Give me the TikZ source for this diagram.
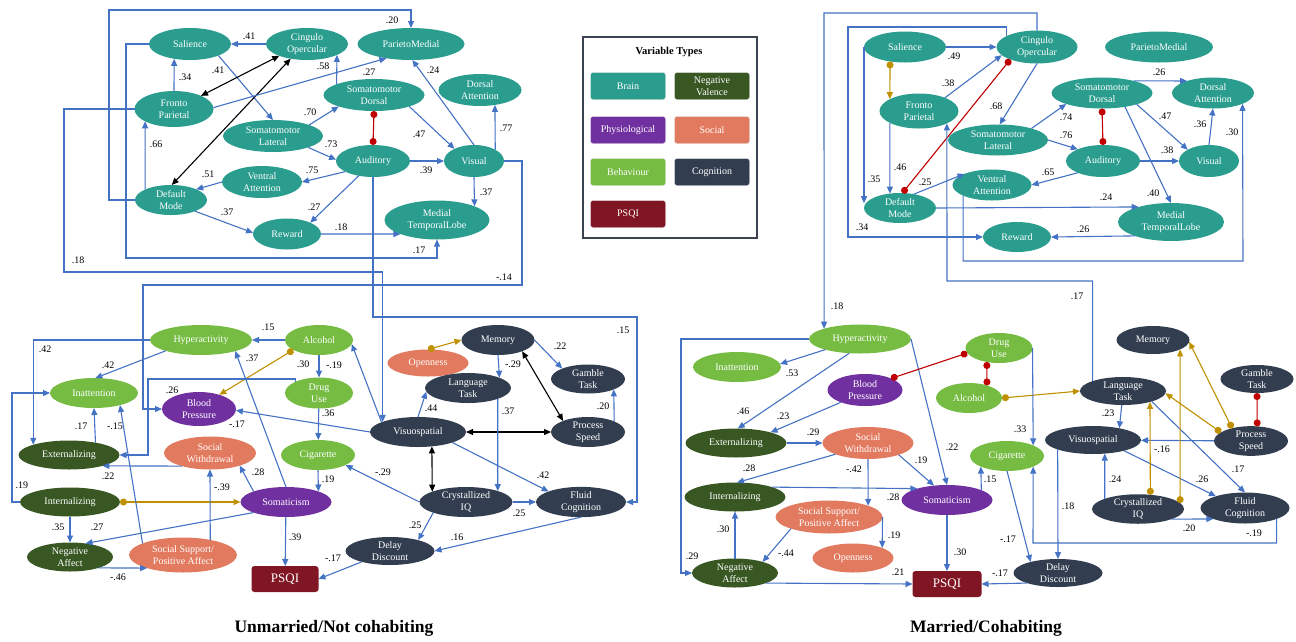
\documentclass[tikz,border=0pt]{standalone}
\usepackage{fontspec}
\setmainfont{Liberation Serif}
\usetikzlibrary{arrows.meta,shapes.geometric}

\definecolor{brainc}{RGB}{42,157,143}
\definecolor{negc}{RGB}{56,87,35}
\definecolor{physc}{RGB}{112,48,160}
\definecolor{socc}{RGB}{226,122,95}
\definecolor{behc}{RGB}{118,188,67}
\definecolor{cogc}{RGB}{50,62,80}
\definecolor{psqic}{RGB}{128,21,35}
\definecolor{linkc}{RGB}{68,114,196}
\definecolor{bondc}{RGB}{192,0,0}
\definecolor{modc}{RGB}{191,144,0}
\definecolor{framec}{RGB}{59,66,80}

\begin{document}
\begin{tikzpicture}[x=1pt,y=-1pt,
    every node/.style={font=\fontsize{10}{12.3}\selectfont},
    var/.style={ellipse,inner sep=0pt,outer sep=0pt,text=white,align=center},
    brain/.style 2 args={var,fill=brainc,minimum width=#1pt,minimum height=#2pt},
    negval/.style 2 args={var,fill=negc,minimum width=#1pt,minimum height=#2pt},
    phys/.style 2 args={var,fill=physc,minimum width=#1pt,minimum height=#2pt},
    social/.style 2 args={var,fill=socc,minimum width=#1pt,minimum height=#2pt},
    behav/.style 2 args={var,fill=behc,minimum width=#1pt,minimum height=#2pt},
    cogn/.style 2 args={var,fill=cogc,minimum width=#1pt,minimum height=#2pt},
    psqibox/.style 2 args={rectangle,rounded corners=3pt,fill=psqic,text=white,inner sep=0pt,
                           outer sep=0pt,minimum width=#1pt,minimum height=#2pt,
                           font=\fontsize{13}{15}\selectfont},
    keybox/.style={rectangle,rounded corners=2.5pt,draw=black!12,text=white,align=center,
                   minimum width=75pt,minimum height=27pt,inner sep=0pt},
    lbl/.style={inner sep=0pt,text=black},
    arr/.style={draw=linkc,line width=1.1pt,-{Triangle[length=7pt,width=6pt]}},
    both/.style={draw=black,line width=1.1pt,{Triangle[length=7pt,width=6pt]}-{Triangle[length=7pt,width=6pt]}},
    bond/.style={draw=bondc,line width=1.1pt,{Circle[length=7pt]}-{Circle[length=7pt]}},
    moder/.style={draw=modc,line width=1.1pt,{Circle[length=7pt]}-{Triangle[length=7pt,width=6pt]}},
  ]
  \useasboundingbox (0,0) rectangle (1296,641);

  % ---------- unmarried: brain networks
  \node[brain={82}{32}] (salience) at (190,44) {Salience};
  \node[brain={82}{32}] (cingulo) at (307,44) {Cingulo\\Opercular};
  \node[brain={107}{32}] (parieto) at (411,44) {ParietoMedial};
  \node[brain={79}{36}] (fronto) at (174,109) {Fronto\\Parietal};
  \node[brain={100}{32}] (smlat) at (273,136) {Somatomotor\\Lateral};
  \node[brain={101}{32}] (smdor) at (374,95) {Somatomotor\\Dorsal};
  \node[brain={83}{32}] (dorsal) at (480,90) {Dorsal\\Attention};
  \node[brain={74}{32}] (auditory) at (373,161) {Auditory};
  \node[brain={60}{32}] (visual) at (474,161) {Visual};
  \node[brain={80}{32}] (ventral) at (262,182) {Ventral\\Attention};
  \node[brain={72}{30}] (defmode) at (171,200) {Default\\Mode};
  \node[brain={68}{31}] (reward) at (287,234) {Reward};
  \node[brain={105}{39}] (medial) at (437,220) {Medial\\TemporalLobe};

  % ---------- unmarried: behaviour and cognition
  \node[behav={102}{30}] (hyper) at (201,340) {Hyperactivity};
  \node[behav={68}{30}] (alcohol) at (319,340) {Alcohol};
  \node[behav={88}{30}] (inatt) at (94,393) {Inattention};
  \node[phys={74}{34}] (bloodp) at (199,409) {Blood\\Pressure};
  \node[behav={68}{31}] (druguse) at (319,393) {Drug\\Use};
  \node[behav={74}{30}] (cigarette) at (318,455) {Cigarette};
  \node[cogn={96}{30}] (visuo) at (418,432) {Visuospatial};
  \node[cogn={73}{30}] (memory) at (498,340) {Memory};
  \node[social={81}{27}] (openness) at (428,363) {Openness};
  \node[cogn={86}{30}] (language) at (468,388) {Language\\Task};
  \node[cogn={74}{29}] (gamble) at (588,379) {Gamble\\Task};
  \node[cogn={74}{30}] (process) at (588,432) {Process\\Speed};
  \node[cogn={93}{30}] (crystal) at (466,502) {Crystallized\\IQ};
  \node[cogn={90}{30}] (fluid) at (581,502) {Fluid\\Cognition};
  \node[cogn={89}{28}] (delay) at (390,551) {Delay\\Discount};
  \node[negval={101}{29}] (extern) at (69,455) {Externalizing};
  \node[social={92}{33}] (socwith) at (210,453) {Social\\Withdrawal};
  \node[negval={100}{29}] (intern) at (70,502) {Internalizing};
  \node[phys={91}{30}] (somat) at (286,502) {Somaticism};
  \node[negval={86}{29}] (negaff) at (70,557) {Negative\\Affect};
  \node[social={108}{35}] (support) at (183,555) {Social Support/\\Positive Affect};
  \node[psqibox={67}{26}] (psqi) at (285,579) {PSQI};

  % brain paths
  \path (cingulo) edge[arr] (salience);          \node[lbl] (w1) at (249,36) {.41};
  \path (salience.-22) edge[arr] (smlat.north);  \node[lbl] (w2) at (218,70) {.41};
  \path (fronto.north) edge[arr] (salience.-137);\node[lbl] (w3) at (185,77) {.34};
  \path (fronto.26) edge[both] (cingulo.203);
  \path (defmode.87) edge[both] (cingulo.222);
  \path (fronto.2) edge[arr] (parieto.210);      \node[lbl] (w4) at (369,72) {.27};
  \path (smdor.164) edge[arr] (cingulo.-20);     \node[lbl] (w5) at (323,66) {.58};
  \path (smlat.17) edge[arr] (smdor.198);        \node[lbl] (w6) at (310,112) {.70};
  \path (smlat.-18) edge[arr] (auditory.178);    \node[lbl] (w7) at (331,144) {.73};
  \path (smdor.south) edge[bond] (auditory.north);
  \path (smdor.-18) edge[arr] (visual.148);      \node[lbl] (w8) at (419,134) {.47};
  \path (visual.north) edge[arr] (parieto.-85);  \node[lbl] (w9) at (433,70) {.24};
  \path (visual.28) edge[arr] (dorsal.-45);      \node[lbl] (w10) at (506,128) {.77};
  \path (auditory) edge[arr] (visual);           \node[lbl] (w11) at (426,170) {.39};
  \path (visual.south) edge[arr] (medial.20);    \node[lbl] (w12) at (486,192) {.37};
  \path (auditory.201) edge[arr] (ventral.0);    \node[lbl] (w13) at (312,170) {.75};
  \path (ventral.180) edge[arr] (defmode.23);    \node[lbl] (w14) at (208,174) {.51};
  \path (defmode.158) edge[arr] (fronto.203);    \node[lbl] (w15) at (156,144) {.66};
  \path (defmode.-25) edge[arr] (reward.178);    \node[lbl] (w16) at (227,212) {.37};
  \path (auditory.226) edge[arr] (reward.26);    \node[lbl] (w17) at (314,207) {.27};
  \path (reward.0) edge[arr] (medial.201);       \node[lbl] (w18) at (341,227) {.18};
  \draw[arr] (defmode.west) -| (109,10) -| (parieto.north);  \node[lbl] (w19) at (392,20) {.20};
  \draw[arr] (salience.west) -| (126,258) -| (medial.south); \node[lbl] (w20) at (419,250) {.17};
  \draw[arr] (fronto.west) -| (64,272) -| (visuo.164);       \node[lbl] (w21) at (78,260) {.18};
  \draw[arr] (visual.east) -| (522,285) -| (143,409) -- (bloodp.west);
  \node[lbl] (w22) at (504,277) {-.14};
  \draw[arr] (auditory.south) |- (637,317) |- (fluid.east);  \node[lbl] (w23) at (623,330) {.15};

  % behaviour and cognition paths
  \draw[arr] (hyper.west) -| (extern.164);       \node[lbl] (w24) at (45,349) {.42};
  \path (hyper.197) edge[arr] (inatt.85);        \node[lbl] (w25) at (108,365) {.42};
  \path (alcohol) edge[arr] (hyper);             \node[lbl] (w26) at (268,327) {.15};
  \path (alcohol) edge[arr] (druguse);           \node[lbl] (w27) at (303,364) {.30};
  \path (alcohol.201) edge[moder] (bloodp.35);
  \path (visuo.165) edge[arr] (alcohol.-7);      \node[lbl] (w28) at (334,365) {-.19};
  \draw[arr] (druguse.155) |- (148,379) |- (extern.east);    \node[lbl] (w29) at (172,390) {.26};
  \path (druguse) edge[arr] (cigarette);         \node[lbl] (w30) at (328,413) {.36};
  \path (cigarette.south) edge[arr] (somat.18);  \node[lbl] (w31) at (328,479) {.19};
  \path (visuo.west) edge[arr] (bloodp.-2);      \node[lbl] (w32) at (237,424) {-.17};
  \path (somat.north) edge[arr] (hyper.-18);     \node[lbl] (w33) at (252,358) {.37};
  \path (somat.162) edge[arr] (socwith.-23);     \node[lbl] (w34) at (258,472) {.28};
  \path (socwith.205) edge[arr] (extern.-18);    \node[lbl] (w35) at (108,476) {.22};
  \path (extern.25) edge[arr] (inatt.south);     \node[lbl] (w36) at (81,426) {.17};
  \draw[arr] (intern.west) -- ++(-8,0) |- (inatt.west);      \node[lbl] (w37) at (22,485) {.19};
  \path (intern.east) edge[moder] (somat.west);
  \path (intern) edge[arr] (negaff);             \node[lbl] (w38) at (58,527) {.35};
  \path (somat.198) edge[arr] (negaff.41);       \node[lbl] (w39) at (97,527) {.27};
  \path (negaff.-21) edge[arr] (support.200);    \node[lbl] (w40) at (118,577) {-.46};
  \path (support.29) edge[arr] (socwith.south);  \node[lbl] (w41) at (222,487) {-.39};
  \path (support.164) edge[arr] (inatt.-25);     \node[lbl] (w42) at (115,426) {-.15};
  \path (somat) edge[arr] (psqi);                \node[lbl] (w43) at (295,537) {.39};
  \path (delay.201) edge[arr] (psqi.east);       \node[lbl] (w44) at (333,558) {-.17};
  \path (fluid.south) edge[arr] (delay.east);    \node[lbl] (w45) at (457,537) {.16};
  \path (crystal.198) edge[arr] (delay.21);      \node[lbl] (w46) at (415,525) {.25};
  \path (crystal) edge[arr] (fluid);             \node[lbl] (w47) at (519,513) {.25};
  \path (crystal.west) edge[arr] (cigarette.-20);\node[lbl] (w48) at (383,472) {-.29};
  \path (visuo.-46) edge[both] (crystal.163);
  \path (visuo) edge[both] (process);
  \path (visuo.-17) edge[arr] (fluid.162);       \node[lbl] (w49) at (543,475) {.42};
  \path (memory.-25) edge[both] (process.156);
  \path (memory.east) edge[arr] (gamble.158);    \node[lbl] (w50) at (560,346) {.22};
  \path (memory.south) edge[arr] (language.18);  \node[lbl] (w51) at (513,364) {-.29};
  \path (openness.north) edge[moder] (memory.west);
  \path (visuo.north) edge[arr] (language.185);  \node[lbl] (w52) at (431,408) {.44};
  \path (language.-20) edge[arr] (crystal.19);   \node[lbl] (w53) at (508,411) {.37};
  \path (process.22) edge[arr] (gamble.-22);     \node[lbl] (w54) at (603,406) {.20};

  % ---------- legend
  \draw[framec,line width=2.5pt] (583,37) rectangle (757,238);
  \node[font=\bfseries\fontsize{10.5}{12}\selectfont] (keytitle) at (669,52) {Variable Types};
  \node[keybox,fill=brainc] (kbrain) at (628,86) {Brain};
  \node[keybox,fill=negc] (knegval) at (712,86) {Negative\\Valence};
  \node[keybox,fill=physc] (kphys) at (628,130) {Physiological};
  \node[keybox,fill=socc] (ksocial) at (712,130) {Social};
  \node[keybox,fill=behc] (kbehav) at (628,172) {Behaviour};
  \node[keybox,fill=cogc] (kcogn) at (712,172) {Cognition};
  \node[keybox,fill=psqic] (kpsqi) at (628,214) {PSQI};

  % ---------- married: brain networks
  \node[brain={82}{31}] (salience2) at (905,47) {Salience};
  \node[brain={81}{33}] (cingulo2) at (1037,47) {Cingulo\\Opercular};
  \node[brain={108}{31}] (parieto2) at (1159,47) {ParietoMedial};
  \node[brain={79}{35}] (fronto2) at (919,111) {Fronto\\Parietal};
  \node[brain={101}{31}] (smdor2) at (1102,93) {Somatomotor\\Dorsal};
  \node[brain={82}{31}] (dorsal2) at (1213,93) {Dorsal\\Attention};
  \node[brain={100}{31}] (smlat2) at (998,140) {Somatomotor\\Lateral};
  \node[brain={74}{32}] (auditory2) at (1103,161) {Auditory};
  \node[brain={60}{32}] (visual2) at (1209,161) {Visual};
  \node[brain={79}{31}] (ventral2) at (992,185) {Ventral\\Attention};
  \node[brain={72}{30}] (defmode2) at (900,208) {Default\\Mode};
  \node[brain={106}{38}] (medial2) at (1171,222) {Medial\\TemporalLobe};
  \node[brain={68}{30}] (reward2) at (1017,237) {Reward};

  % ---------- married: behaviour and cognition
  \node[behav={102}{29}] (hyper2) at (860,339) {Hyperactivity};
  \node[behav={88}{30}] (inatt2) at (737,367) {Inattention};
  \node[phys={75}{32}] (bloodp2) at (865,390) {Blood\\Pressure};
  \node[behav={67}{30}] (druguse2) at (999,348) {Drug\\Use};
  \node[behav={66}{30}] (alcohol2) at (969,398) {Alcohol};
  \node[cogn={86}{28}] (language2) at (1123,391) {Language\\Task};
  \node[cogn={73}{28}] (memory2) at (1153,340) {Memory};
  \node[cogn={73}{28}] (gamble2) at (1257,379) {Gamble\\Task};
  \node[cogn={96}{28}] (visuo2) at (1093,440) {Visuospatial};
  \node[cogn={74}{29}] (process2) at (1251,441) {Process\\Speed};
  \node[behav={74}{30}] (cigarette2) at (1007,456) {Cigarette};
  \node[cogn={92}{29}] (crystal2) at (1138,509) {Crystallized\\IQ};
  \node[cogn={89}{31}] (fluid2) at (1245,508) {Fluid\\Cognition};
  \node[cogn={89}{28}] (delay2) at (1058,573) {Delay\\Discount};
  \node[negval={101}{29}] (extern2) at (736,443) {Externalizing};
  \node[social={91}{32}] (socwith2) at (868,443) {Social\\Withdrawal};
  \node[negval={101}{29}] (intern2) at (735,497) {Internalizing};
  \node[phys={91}{30}] (somat2) at (947,500) {Somaticism};
  \node[social={107}{33}] (support2) at (829,517) {Social Support/\\Positive Affect};
  \node[social={81}{29}] (openness2) at (853,558) {Openness};
  \node[negval={86}{29}] (negaff2) at (735,573) {Negative\\Affect};
  \node[psqibox={69}{26}] (psqi2) at (947,584) {PSQI};

  % brain paths
  \path (salience2) edge[arr] (cingulo2);         \node[lbl] (v1) at (954,56) {.49};
  \path (salience2.224) edge[moder] (fronto2.158);
  \path (fronto2.27) edge[arr] (cingulo2.193);    \node[lbl] (v2) at (948,83) {.38};
  \path (defmode2.81) edge[bond] (cingulo2.205);
  \path (cingulo2.south) edge[arr] (smlat2.84);   \node[lbl] (v3) at (996,106) {.68};
  \path (smlat2.19) edge[arr] (smdor2.197);       \node[lbl] (v4) at (1066,117) {.74};
  \path (smlat2.east) edge[arr] (auditory2.155);  \node[lbl] (v5) at (1066,135) {.76};
  \path (smdor2.south) edge[bond] (auditory2.north);
  \path (smdor2.21) edge[arr] (dorsal2.155);      \node[lbl] (v6) at (1159,72) {.26};
  \path (smdor2.-18) edge[arr] (visual2.152);     \node[lbl] (v7) at (1165,116) {.47};
  \path (smdor2.-31) edge[arr] (medial2.north);   \node[lbl] (v8) at (1153,193) {.40};
  \path (visual2.north) edge[arr] (dorsal2.south);\node[lbl] (v9) at (1200,124) {.36};
  \path (auditory2) edge[arr] (visual2);          \node[lbl] (v10) at (1167,150) {.38};
  \path (auditory2.205) edge[arr] (ventral2.east);\node[lbl] (v11) at (1048,172) {.65};
  \draw[arr] (ventral2.200) |- (1243,261) -- (dorsal2.-20);  \node[lbl] (v12) at (1232,132) {.30};
  \path (defmode2.45) edge[arr] (ventral2.158);   \node[lbl] (v13) at (925,182) {.25};
  \path (fronto2.202) edge[arr] (defmode2.125);   \node[lbl] (v14) at (900,167) {.46};
  \path (salience2.west) edge[arr] (salience2.west |- defmode2.172);
  \node[lbl] (v15) at (874,179) {.35};
  \path (defmode2.east) edge[arr] (medial2.155);  \node[lbl] (v16) at (1106,197) {.24};
  \path (medial2.201) edge[arr] (reward2.east);   \node[lbl] (v17) at (1083,229) {.26};
  \draw[arr] (cingulo2.160) |- (848,27) |- (reward2.west);   \node[lbl] (v18) at (862,227) {.34};
  \draw[arr] (cingulo2.north) |- (824,13) -- (hyper2.164);   \node[lbl] (v19) at (837,306) {.18};
  \draw[arr] (language2.162) |- (947,281) -- (fronto2.-24);  \node[lbl] (v20) at (1077,296) {.17};

  % behaviour and cognition paths
  \path (hyper2.197) edge[arr] (inatt2.4);        \node[lbl] (v21) at (792,373) {.53};
  \path (hyper2.233) edge[arr] (extern2.83);      \node[lbl] (v22) at (743,411) {.46};
  \path (bloodp2.207) edge[arr] (extern2.17);     \node[lbl] (v23) at (783,416) {.23};
  \draw[arr] (hyper2.west) -- ++(-128,0) |- (negaff2.west);  \node[lbl] (v24) at (692,556) {.29};
  \path (hyper2.east) edge[arr] (somat2.north);   \node[lbl] (v25) at (952,447) {.22};
  \path (bloodp2.24) edge[bond] (druguse2.189);
  \path (druguse2.229) edge[bond] (alcohol2.35);
  \path (alcohol2.east) edge[moder] (language2.west);
  \path (druguse2.east) edge[arr] (cigarette2.22);\node[lbl] (v26) at (1020,429) {.33};
  \path (somat2.16) edge[arr] (cigarette2.202);   \node[lbl] (v27) at (990,479) {.15};
  \path (socwith2.-21) edge[arr] (somat2.132);    \node[lbl] (v28) at (921,460) {.19};
  \path (extern2) edge[arr] (socwith2);           \node[lbl] (v29) at (813,432) {.29};
  \path (socwith2.199) edge[arr] (intern2.82);    \node[lbl] (v30) at (749,468) {.28};
  \path (socwith2.south) edge[arr] (support2.16); \node[lbl] (v31) at (854,469) {-.42};
  \path (intern2.15) edge[arr] (somat2.159);      \node[lbl] (v32) at (893,497) {.28};
  \path (negaff2) edge[arr] (intern2);            \node[lbl] (v33) at (723,529) {.30};
  \path (support2.197) edge[arr] (negaff2.22);    \node[lbl] (v34) at (786,553) {-.44};
  \path (support2.east) edge[arr] (openness2.19); \node[lbl] (v35) at (894,535) {.19};
  \path (negaff2.-18) edge[arr] (psqi2.west);     \node[lbl] (v36) at (898,572) {.21};
  \path (somat2) edge[arr] (psqi2);               \node[lbl] (v37) at (960,552) {.30};
  \path (delay2.198) edge[arr] (psqi2.east);      \node[lbl] (v38) at (1000,573) {-.17};
  \path (cigarette2.south) edge[arr] (delay2.158);\node[lbl] (v39) at (1008,539) {-.17};
  \path (visuo2.195) edge[arr] (delay2.north);    \node[lbl] (v40) at (1068,506) {.18};
  \path (language2.-95) edge[arr] (visuo2.24);    \node[lbl] (v41) at (1108,413) {.23};
  \path (language2.-20) edge[arr] (fluid2.north); \node[lbl] (v42) at (1238,469) {.17};
  \path (process2) edge[arr] (visuo2);            \node[lbl] (v43) at (1162,449) {-.16};
  \path (visuo2.-19) edge[arr] (fluid2.158);      \node[lbl] (v44) at (1202,479) {.26};
  \path (crystal2.163) edge[arr] (visuo2.-49);    \node[lbl] (v45) at (1115,479) {.24};
  \path (crystal2.-17) edge[arr] (fluid2.199);    \node[lbl] (v46) at (1189,528) {.20};
  \draw[arr] (fluid2.-19) |- (1033,543) -- (cigarette2.-22); \node[lbl] (v47) at (1254,533) {-.19};
  \path (crystal2.49) edge[moder] (language2.-22);
  \path (crystal2.8) edge[moder] (memory2.-19);
  \path (process2.164) edge[moder] (language2.-3);
  \path (process2.146) edge[moder] (memory2.-3);
  \path (gamble2.south) edge[bond] (process2.67);

  % ---------- titles
  \node[font=\bfseries\fontsize{17.5}{20}\selectfont] (title1) at (334,628) {Unmarried/Not cohabiting};
  \node[font=\bfseries\fontsize{17.5}{20}\selectfont] (title2) at (986,628) {Married/Cohabiting};
\end{tikzpicture}
\end{document}
